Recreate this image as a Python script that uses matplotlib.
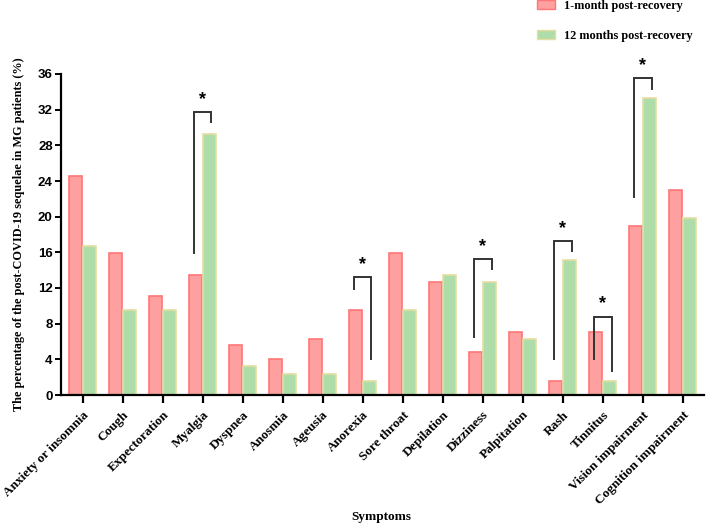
import matplotlib
matplotlib.use("Agg")
import matplotlib.pyplot as plt
import numpy as np
from matplotlib.patches import Patch

categories = ["Anxiety or insomnia", "Cough", "Expectoration", "Myalgia", "Dyspnea",
              "Anosmia", "Ageusia", "Anorexia", "Sore throat", "Depilation", "Dizziness",
              "Palpitation", "Rash", "Tinnitus", "Vision impairment", "Cognition impairment"]
one_month = [24.6, 15.9, 11.1, 13.5, 5.6, 4.0, 6.3, 9.5, 15.9, 12.7, 4.8, 7.1, 1.6, 7.1, 19.0, 23.0]
twelve_months = [16.7, 9.5, 9.5, 29.3, 3.2, 2.4, 2.4, 1.6, 9.5, 13.5, 12.7, 6.3, 15.1, 1.6, 33.3, 19.8]
yticks = [0, 4, 8, 12, 16, 20, 24, 28, 32, 36]

# significance brackets: category index, left-leg bottom, bracket top, right-leg bottom
sig_idx = [3, 7, 10, 12, 13, 14]
sig_left = [15.9, 11.9, 6.5, 4.0, 4.0, 22.2]
sig_top = [31.7, 13.2, 15.2, 17.3, 8.8, 35.5]
sig_right = [30.6, 4.0, 14.1, 16.2, 2.7, 34.3]

serif = ["Liberation Serif", "DejaVu Serif"]
sans = ["Liberation Sans", "DejaVu Sans"]

red_face, red_edge = "#FFA0A0", "#FF7676"
green_face, green_edge = "#AEDDA9", "#E6DDA2"

fig = plt.figure(figsize=(7.08, 5.27), dpi=100)
ax = fig.add_axes([61/708, 1-395/527, (704-61)/708, (395-74)/527])

x = np.arange(len(categories))
w = 0.33
off = 0.175
ax.bar(x - off, one_month, w, color=red_face, edgecolor=red_edge, linewidth=1.2, zorder=2)
ax.bar(x + off, twelve_months, w, color=green_face, edgecolor=green_edge, linewidth=1.2, zorder=2)

leg = 0.22
for i, l, t, r in zip(sig_idx, sig_left, sig_top, sig_right):
    ax.plot([i - leg, i - leg, i + leg, i + leg], [l, t, t, r], color="#333333", lw=1.4,
            solid_joinstyle="miter", zorder=3)
    ax.text(i, t + 0.45, "*", ha="center", va="bottom", fontsize=13, fontweight="bold",
            family=sans, color="black")

ax.set_xlim(-0.54, 15.53)
ax.set_ylim(0, 36)
ax.set_yticks(yticks)
ax.set_yticklabels([str(v) for v in yticks], family=sans, fontweight="bold", fontsize=9.5)
ax.set_xticks(x)
ax.set_xticklabels(categories, rotation=45, ha="right", rotation_mode="anchor",
                   family=serif, fontweight="bold", fontsize=9.5)
for s in ["top", "right"]:
    ax.spines[s].set_visible(False)
for s in ["left", "bottom"]:
    ax.spines[s].set_linewidth(1.6)
ax.tick_params(axis="y", length=4, width=1.4, pad=2)
ax.tick_params(axis="x", length=6, width=1.6, pad=4)

ax.set_ylabel("The percentage of the post-COVID-19 sequelae in MG patients (%)",
              family=serif, fontweight="bold", fontsize=8.8, labelpad=9)
fig.text(381/708, 1 - 517/527, "Symptoms", family=serif,
         fontweight="bold", fontsize=9.5, ha="center", va="center")

handles = [Patch(facecolor=red_face, edgecolor=red_edge, label="1-month post-recovery"),
           Patch(facecolor=green_face, edgecolor=green_edge, label="12 months post-recovery")]
fig.legend(handles=handles, loc="upper left", bbox_to_anchor=(537/708, 1.0), frameon=False,
           prop={"family": serif, "weight": "bold", "size": 8.8}, labelspacing=1.45,
           handlelength=1.45, handleheight=0.7, handletextpad=0.8, borderpad=0.0,
           borderaxespad=0.0)

fig.savefig("out.png", dpi=100)
